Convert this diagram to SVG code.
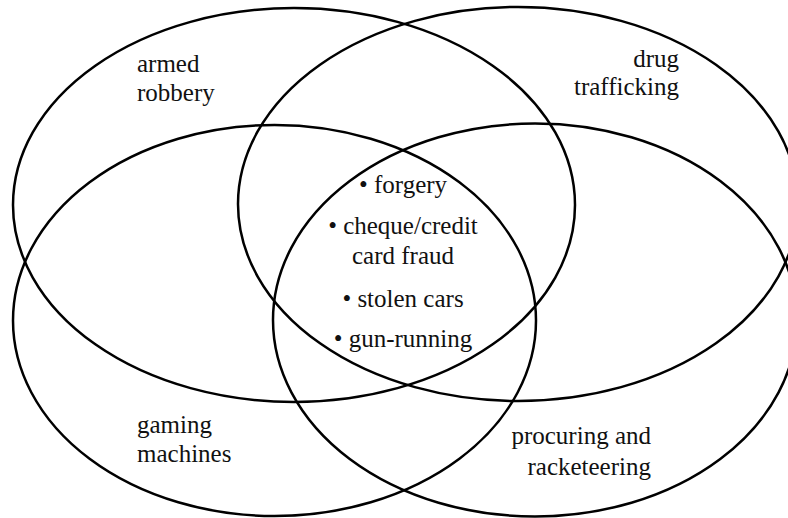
<svg xmlns="http://www.w3.org/2000/svg" width="788" height="518" viewBox="0 0 788 518">
<style>
.set{fill:none;stroke:#000;stroke-width:2.5}
text{font-family:"Liberation Serif","Times New Roman",serif;font-size:25px;fill:#111}
.r{text-anchor:end}
.m{text-anchor:middle}
</style>
<rect width="788" height="518" fill="#fff"/>
<g id="armed-robbery">
<ellipse class="set" cx="294" cy="205" rx="281" ry="197"/>
<text x="137" y="72">armed</text>
<text x="137" y="101">robbery</text>
</g>
<g id="drug-trafficking">
<ellipse class="set" cx="518" cy="204" rx="280" ry="197"/>
<text class="r" x="679" y="67">drug</text>
<text class="r" x="679" y="95">trafficking</text>
</g>
<g id="gaming-machines">
<ellipse class="set" cx="274.5" cy="320.5" rx="261.5" ry="195.5"/>
<text x="137" y="433">gaming</text>
<text x="137" y="462">machines</text>
</g>
<g id="procuring-racketeering">
<ellipse class="set" cx="535" cy="320" rx="262" ry="196.5"/>
<text class="r" x="651" y="444">procuring and</text>
<text class="r" x="651" y="475">racketeering</text>
</g>
<g id="common">
<text class="m" x="403" y="193">• forgery</text>
<text class="m" x="403" y="234">• cheque/credit</text>
<text class="m" x="403" y="264">card fraud</text>
<text class="m" x="403" y="307">• stolen cars</text>
<text class="m" x="403" y="347">• gun-running</text>
</g>
<g id="connectors"></g>
</svg>
